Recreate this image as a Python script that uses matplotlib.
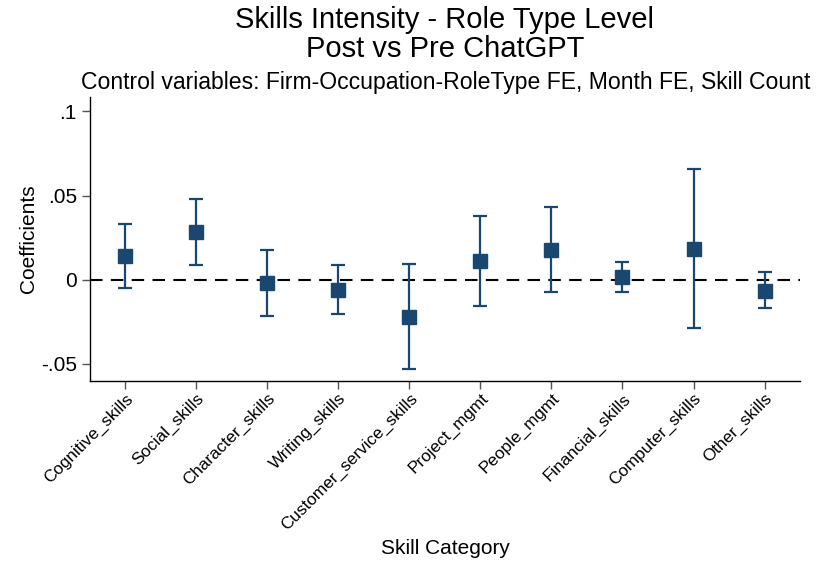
import numpy as np
import matplotlib.pyplot as plt

plt.rcParams['font.family'] = ['Liberation Sans', 'DejaVu Sans']

# ================= DATA =================
skills = ['Cognitive_skills', 'Social_skills', 'Character_skills', 'Writing_skills',
          'Customer_service_skills', 'Project_mgmt', 'People_mgmt',
          'Financial_skills', 'Computer_skills', 'Other_skills']
coef = [0.0138, 0.0283, -0.0022, -0.0060, -0.0221, 0.0110, 0.0175, 0.0014, 0.0185, -0.0066]
ci_low = [-0.0052, 0.0086, -0.0217, -0.0203, -0.0530, -0.0157, -0.0076, -0.0076, -0.0287, -0.0171]
ci_high = [0.0329, 0.0482, 0.0177, 0.0090, 0.0096, 0.0376, 0.0430, 0.0104, 0.0661, 0.0044]

yticks = [-0.05, 0, 0.05, 0.1]
ytick_labels = ['-.05', '0', '.05', '.1']

# ================= PLOT =================
navy = '#1a476f'
x = np.arange(1, len(skills) + 1)
coef = np.array(coef)
err = [coef - np.array(ci_low), np.array(ci_high) - coef]

fig = plt.figure(figsize=(8.18, 5.63), dpi=100)
ax = fig.add_axes([0.110, 0.323, 0.868, 0.505])

ax.axhline(0, color='black', lw=1.5, ls=(0, (6, 4)), zorder=1)
ax.errorbar(x, coef, yerr=err, fmt='none', ecolor=navy, elinewidth=1.6,
            capsize=5, capthick=1.6, zorder=2)
ax.plot(x, coef, 's', color=navy, ms=10, zorder=3)

ax.set_xlim(0.5, 10.5)
ax.set_ylim(-0.0603, 0.1087)
ax.set_yticks(yticks)
ax.set_yticklabels(ytick_labels, fontsize=15)
ax.set_xticks(x)
ax.set_xticklabels(skills, rotation=45, ha='right', rotation_mode='anchor', fontsize=12.3)
ax.tick_params(axis='both', direction='out', length=6, width=1, color='#555555')
ax.tick_params(axis='x', pad=1)

for s in ['top', 'right']:
    ax.spines[s].set_visible(False)
for s in ['left', 'bottom']:
    ax.spines[s].set_linewidth(1)

ax.set_ylabel('Coefficients', fontsize=15, labelpad=2)
ax.set_xlabel('Skill Category', fontsize=15)
# place x title near the bottom edge, as in the reference
ax.xaxis.set_label_coords(0.5, (15 / 563 - 0.323) / 0.505)
ax.xaxis.label.set_va('center')

fig.text(0.544, 0.950, 'Skills Intensity - Role Type Level',
         ha='center', va='baseline', fontsize=21)
fig.text(0.544, 0.899, 'Post vs Pre ChatGPT',
         ha='center', va='baseline', fontsize=21)
fig.text(0.545, 0.842, 'Control variables: Firm-Occupation-RoleType FE, Month FE, Skill Count',
         ha='center', va='baseline', fontsize=16.6)

plt.savefig('out.png', dpi=100)
